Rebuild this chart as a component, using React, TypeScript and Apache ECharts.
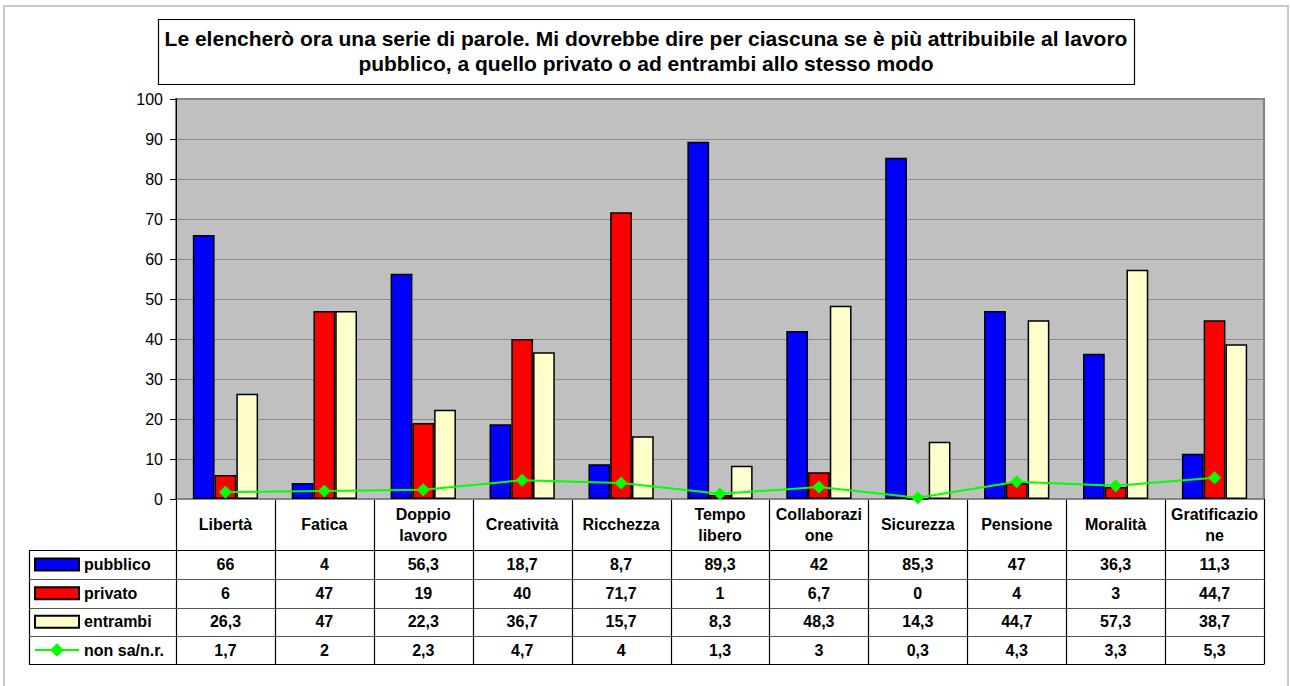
import React, { useEffect, useRef } from "react";
import * as echarts from "echarts";

const categories = [
  "Libertà",
  "Fatica",
  "Doppio\nlavoro",
  "Creatività",
  "Ricchezza",
  "Tempo\nlibero",
  "Collaborazi\none",
  "Sicurezza",
  "Pensione",
  "Moralità",
  "Gratificazio\nne",
];
const pubblico = [66, 4, 56.3, 18.7, 8.7, 89.3, 42, 85.3, 47, 36.3, 11.3];
const privato = [6, 47, 19, 40, 71.7, 1, 6.7, 0, 4, 3, 44.7];
const entrambi = [26.3, 47, 22.3, 36.7, 15.7, 8.3, 48.3, 14.3, 44.7, 57.3, 38.7];
const nonSa = [1.7, 2, 2.3, 4.7, 4, 1.3, 3, 0.3, 4.3, 3.3, 5.3];
const seriesNames = ["pubblico", "privato", "entrambi", "non sa/n.r."];
const titleText =
  "Le elencherò ora una serie di parole. Mi dovrebbe dire per ciascuna se è più attribuibile al lavoro\npubblico, a quello privato o ad entrambi allo stesso modo";

const FONT = "'Liberation Sans', Arial, sans-serif";
const W = 1290;
const H = 686;
const PL = 176;
const PR = 1264;
const PT = 99;
const PB = 499;
const TABLE_LEFT = 29;
const ROWS = [499, 550, 579, 607.5, 636, 664];

const fmt = (v: number) => String(v).replace(".", ",");

export default function App() {
  const ref = useRef<HTMLDivElement>(null);
  useEffect(() => {
    if (!ref.current) return;
    const chart = echarts.init(ref.current, null, { renderer: "svg" });
    const cellW = (PR - PL) / categories.length;
    const graphic: any[] = [];
    graphic.push({
      type: "rect",
      shape: { x: 4, y: 6, width: 1284, height: 700 },
      style: { fill: "none", stroke: "#c8c8c8", lineWidth: 2 },
      silent: true,
    });
    graphic.push({
      type: "rect",
      shape: { x: 158.5, y: 19.5, width: 976, height: 65 },
      style: { fill: "#fff", stroke: "#000", lineWidth: 1.2 },
      silent: true,
    });
    graphic.push({
      type: "text",
      x: 646,
      y: 51,
      style: {
        text: titleText,
        font: `bold 21px ${FONT}`,
        fill: "#000",
        textAlign: "center",
        textVerticalAlign: "middle",
        lineHeight: 25,
      },
      silent: true,
    });
    for (let i = 0; i <= categories.length; i++) {
      const x = Math.round(PL + i * cellW) + 0.5;
      graphic.push({
        type: "line",
        shape: { x1: x, y1: PB, x2: x, y2: ROWS[5] },
        style: { stroke: "#000", lineWidth: 1.2 },
        silent: true,
      });
    }
    graphic.push({
      type: "line",
      shape: { x1: TABLE_LEFT + 0.5, y1: ROWS[1], x2: TABLE_LEFT + 0.5, y2: ROWS[5] },
      style: { stroke: "#000", lineWidth: 1.2 },
      silent: true,
    });
    for (let r = 1; r < ROWS.length; r++) {
      const y = Math.round(ROWS[r]) + 0.5;
      graphic.push({
        type: "line",
        shape: { x1: TABLE_LEFT, y1: y, x2: PR + 0.5, y2: y },
        style: { stroke: r === 1 || r === 5 ? "#000" : "#555", lineWidth: 1.2 },
        silent: true,
      });
    }

    const rowCenters = [1, 2, 3, 4].map((r) => (ROWS[r] + ROWS[r + 1]) / 2);
    const valueRows = [pubblico, privato, entrambi, nonSa];
    const valueAxes = valueRows.map((vals, i) => ({
      type: "category",
      gridIndex: 0,
      position: "bottom",
      data: vals.map(fmt),
      axisLine: { show: false },
      axisTick: { show: false },
      splitLine: { show: false },
      axisLabel: {
        interval: 0,
        margin: rowCenters[i] - PB,
        verticalAlign: "middle",
        color: "#000",
        fontFamily: FONT,
        fontWeight: "bold",
        fontSize: 16,
      },
    }));

    const legends = seriesNames.map((name, i) => ({
      data: [i < 3 ? { name, icon: "rect" } : { name }],
      left: 34,
      top: rowCenters[i] - (i < 3 ? 9 : 9),
      orient: "horizontal",
      padding: 0,
      itemWidth: 44,
      itemHeight: i < 3 ? 12 : 17,
      itemGap: 5,
      selectedMode: false,
      textStyle: {
        color: "#000",
        fontFamily: FONT,
        fontWeight: "bold",
        fontSize: 16,
        lineHeight: 18,
        padding: [0, 0, 0, 0],
      },
    }));

    const barStyle = (color: string) => ({
      color,
      borderColor: "#000",
      borderWidth: 1.5,
    });

    chart.setOption({
      animation: false,
      backgroundColor: "#fff",
      graphic,
      legend: legends,
      grid: {
        left: PL,
        right: W - PR,
        top: PT,
        bottom: H - PB,
        show: true,
        backgroundColor: "#c0c0c0",
        borderColor: "#808080",
        borderWidth: 2,
        containLabel: false,
      },
      xAxis: [
        {
          type: "category",
          data: categories,
          axisLine: { show: false },
          axisTick: { show: false },
          splitLine: { show: false },
          axisLabel: {
            interval: 0,
            margin: (ROWS[0] + ROWS[1]) / 2 - PB,
            verticalAlign: "middle",
            color: "#000",
            fontFamily: FONT,
            fontWeight: "bold",
            fontSize: 16,
            lineHeight: 21,
          },
        },
        ...valueAxes,
      ],
      yAxis: {
        type: "value",
        min: 0,
        max: 100,
        interval: 10,
        axisLine: { show: true, lineStyle: { color: "#000", width: 1 } },
        axisTick: { show: true, length: 6, lineStyle: { color: "#000" } },
        splitLine: { show: true, lineStyle: { color: "#8c8c8c", width: 1 } },
        axisLabel: {
          color: "#000",
          fontFamily: FONT,
          fontSize: 16,
          margin: 13,
        },
      },
      series: [
        {
          name: seriesNames[0],
          type: "bar",
          data: pubblico,
          barGap: "0%",
          barCategoryGap: "34%",
          itemStyle: barStyle("#0000ff"),
        },
        {
          name: seriesNames[1],
          type: "bar",
          data: privato,
          barGap: "0%",
          barCategoryGap: "34%",
          itemStyle: barStyle("#ff0000"),
        },
        {
          name: seriesNames[2],
          type: "bar",
          data: entrambi,
          barGap: "0%",
          barCategoryGap: "34%",
          itemStyle: barStyle("#ffffcc"),
        },
        {
          name: seriesNames[3],
          type: "line",
          data: nonSa,
          z: 5,
          symbol: "diamond",
          symbolSize: [13, 13],
          lineStyle: { color: "#00ff00", width: 2 },
          itemStyle: { color: "#00ff00", borderWidth: 0 },
        },
      ],
    });
    return () => chart.dispose();
  }, []);
  return (
    <div
      ref={ref}
      style={{ position: "fixed", left: 0, top: 0, width: W, height: H }}
    />
  );
}
